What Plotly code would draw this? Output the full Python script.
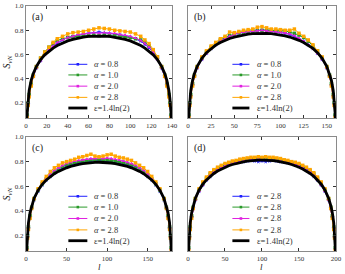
import plotly.graph_objects as go
from plotly.subplots import make_subplots

# ---------------- data ----------------
# panel (a), L = 140
l_a = [0, 1, 2, 3, 5, 7, 10, 14, 18, 22, 26, 30, 35, 40, 45, 50, 55, 60, 65, 70, 75, 80, 85, 90,
       95, 100, 105, 110, 114, 118, 122, 126, 130, 133, 135, 137, 138, 139, 140]
a_blue = [0.0, 0.09, 0.19, 0.26, 0.35, 0.42, 0.49, 0.55, 0.60, 0.64, 0.67, 0.69, 0.72, 0.74, 0.75, 0.76,
          0.77, 0.775, 0.78, 0.785, 0.78, 0.775, 0.77, 0.765, 0.755, 0.745, 0.73, 0.71, 0.685, 0.655,
          0.62, 0.565, 0.49, 0.42, 0.35, 0.26, 0.19, 0.09, 0.0]
a_green = [0.0, 0.10, 0.20, 0.27, 0.36, 0.43, 0.50, 0.57, 0.62, 0.66, 0.69, 0.715, 0.73, 0.74, 0.745,
           0.75, 0.755, 0.755, 0.76, 0.755, 0.76, 0.755, 0.755, 0.75, 0.745, 0.74, 0.73, 0.72, 0.70,
           0.67, 0.63, 0.58, 0.50, 0.43, 0.36, 0.27, 0.20, 0.10, 0.0]
a_mag = [0.0, 0.09, 0.19, 0.26, 0.35, 0.42, 0.49, 0.55, 0.60, 0.64, 0.67, 0.70, 0.72, 0.74, 0.75, 0.765,
         0.77, 0.775, 0.78, 0.775, 0.78, 0.775, 0.775, 0.765, 0.76, 0.75, 0.735, 0.715, 0.69, 0.66,
         0.62, 0.56, 0.49, 0.42, 0.35, 0.26, 0.19, 0.09, 0.0]
a_orange = [0.0, 0.08, 0.18, 0.25, 0.34, 0.42, 0.50, 0.57, 0.62, 0.66, 0.70, 0.73, 0.75, 0.77, 0.78,
            0.785, 0.79, 0.80, 0.81, 0.82, 0.815, 0.81, 0.80, 0.795, 0.79, 0.785, 0.77, 0.75, 0.72,
            0.69, 0.64, 0.58, 0.50, 0.42, 0.34, 0.25, 0.18, 0.08, 0.0]
a_theory = [0.0, 0.120, 0.236, 0.303, 0.388, 0.444, 0.502, 0.557, 0.597, 0.628, 0.653, 0.674, 0.695,
            0.712, 0.725, 0.736, 0.743, 0.749, 0.752, 0.753, 0.752, 0.749, 0.743, 0.736, 0.725, 0.712,
            0.695, 0.674, 0.653, 0.628, 0.597, 0.557, 0.502, 0.444, 0.388, 0.303, 0.236, 0.120, 0.0]

# panel (b), L = 160
l_b = [0, 1, 2, 3, 5, 7, 10, 15, 20, 25, 30, 35, 40, 45, 50, 55, 60, 65, 70, 75, 80, 85, 90, 95, 100,
       105, 110, 115, 120, 125, 130, 135, 140, 145, 150, 153, 155, 157, 158, 159, 160]
b_blue = [0.0, 0.09, 0.19, 0.26, 0.35, 0.42, 0.49, 0.56, 0.61, 0.65, 0.68, 0.71, 0.73, 0.75, 0.765,
          0.775, 0.785, 0.79, 0.795, 0.80, 0.80, 0.80, 0.795, 0.79, 0.785, 0.775, 0.765, 0.75, 0.73,
          0.71, 0.68, 0.65, 0.61, 0.56, 0.49, 0.42, 0.35, 0.26, 0.19, 0.09, 0.0]
b_green = [0.0, 0.10, 0.20, 0.27, 0.36, 0.43, 0.50, 0.57, 0.62, 0.66, 0.69, 0.72, 0.74, 0.755, 0.77,
           0.78, 0.785, 0.79, 0.795, 0.795, 0.80, 0.80, 0.80, 0.795, 0.80, 0.795, 0.785, 0.775, 0.76,
           0.74, 0.71, 0.67, 0.63, 0.57, 0.50, 0.43, 0.36, 0.27, 0.20, 0.10, 0.0]
b_mag = [0.0, 0.09, 0.19, 0.26, 0.35, 0.42, 0.49, 0.56, 0.61, 0.65, 0.68, 0.71, 0.73, 0.75, 0.765,
         0.78, 0.785, 0.79, 0.79, 0.795, 0.80, 0.795, 0.79, 0.79, 0.785, 0.78, 0.77, 0.755, 0.735,
         0.71, 0.68, 0.65, 0.61, 0.56, 0.49, 0.42, 0.35, 0.26, 0.19, 0.09, 0.0]
b_orange = [0.0, 0.08, 0.18, 0.25, 0.34, 0.42, 0.50, 0.58, 0.63, 0.67, 0.70, 0.73, 0.75, 0.785, 0.78,
            0.79, 0.80, 0.805, 0.81, 0.825, 0.83, 0.82, 0.81, 0.81, 0.805, 0.80, 0.80, 0.81, 0.775,
            0.75, 0.72, 0.68, 0.63, 0.58, 0.50, 0.42, 0.34, 0.25, 0.18, 0.08, 0.0]
b_theory = [0.0, 0.120, 0.236, 0.303, 0.388, 0.444, 0.503, 0.569, 0.615, 0.650, 0.677, 0.699, 0.717,
            0.732, 0.744, 0.754, 0.762, 0.768, 0.772, 0.774, 0.775, 0.774, 0.772, 0.768, 0.762, 0.754,
            0.744, 0.732, 0.717, 0.699, 0.677, 0.650, 0.615, 0.569, 0.503, 0.444, 0.388, 0.303, 0.236,
            0.120, 0.0]

# panel (c), L = 180
l_c = [0, 1, 2, 3, 5, 7, 10, 15, 20, 25, 30, 35, 40, 45, 50, 55, 60, 65, 70, 75, 80, 85, 90, 95, 100,
       105, 110, 115, 120, 125, 130, 135, 140, 145, 150, 155, 160, 165, 170, 173, 175, 177, 178, 179, 180]
c_blue = [0.0, 0.09, 0.19, 0.26, 0.35, 0.42, 0.49, 0.56, 0.61, 0.65, 0.68, 0.71, 0.73, 0.75, 0.765,
          0.775, 0.785, 0.79, 0.795, 0.80, 0.805, 0.805, 0.81, 0.805, 0.80, 0.80, 0.795, 0.79, 0.785,
          0.775, 0.765, 0.75, 0.73, 0.71, 0.68, 0.65, 0.61, 0.56, 0.49, 0.42, 0.35, 0.26, 0.19, 0.09, 0.0]
c_green = [0.0, 0.10, 0.20, 0.27, 0.36, 0.43, 0.50, 0.57, 0.62, 0.66, 0.69, 0.72, 0.74, 0.76, 0.775,
           0.785, 0.795, 0.80, 0.805, 0.81, 0.815, 0.815, 0.82, 0.815, 0.815, 0.81, 0.805, 0.80, 0.795,
           0.785, 0.775, 0.76, 0.74, 0.72, 0.69, 0.66, 0.62, 0.57, 0.50, 0.43, 0.36, 0.27, 0.20, 0.10, 0.0]
c_mag = [0.0, 0.09, 0.19, 0.26, 0.35, 0.43, 0.50, 0.57, 0.625, 0.665, 0.70, 0.73, 0.75, 0.77, 0.785,
         0.795, 0.805, 0.81, 0.815, 0.82, 0.825, 0.825, 0.83, 0.825, 0.83, 0.825, 0.82, 0.815, 0.805,
         0.795, 0.785, 0.77, 0.75, 0.73, 0.70, 0.665, 0.625, 0.57, 0.50, 0.43, 0.35, 0.26, 0.19, 0.09, 0.0]
c_orange = [0.0, 0.08, 0.18, 0.25, 0.34, 0.42, 0.50, 0.58, 0.635, 0.68, 0.72, 0.75, 0.77, 0.79, 0.80,
            0.81, 0.82, 0.835, 0.84, 0.85, 0.86, 0.845, 0.84, 0.845, 0.855, 0.86, 0.845, 0.835, 0.83,
            0.82, 0.81, 0.79, 0.77, 0.75, 0.72, 0.68, 0.635, 0.58, 0.50, 0.42, 0.34, 0.25, 0.18, 0.08, 0.0]
c_theory = [0.0, 0.120, 0.236, 0.303, 0.388, 0.444, 0.503, 0.569, 0.616, 0.651, 0.679, 0.702, 0.721,
            0.737, 0.750, 0.761, 0.771, 0.778, 0.784, 0.789, 0.792, 0.794, 0.795, 0.794, 0.792, 0.789,
            0.784, 0.778, 0.771, 0.761, 0.750, 0.737, 0.721, 0.702, 0.679, 0.651, 0.616, 0.569, 0.503,
            0.444, 0.388, 0.303, 0.236, 0.120, 0.0]

# panel (d), L = 200
l_d = [0, 1, 2, 3, 5, 7, 10, 15, 20, 25, 30, 35, 40, 45, 50, 55, 60, 65, 70, 75, 80, 85, 90, 95, 100,
       105, 110, 115, 120, 125, 130, 135, 140, 145, 150, 155, 160, 165, 170, 175, 180, 185, 190, 193,
       195, 197, 198, 199, 200]
d_blue = [0.0, 0.09, 0.19, 0.26, 0.35, 0.42, 0.49, 0.56, 0.61, 0.65, 0.68, 0.71, 0.73, 0.75, 0.76,
          0.775, 0.785, 0.79, 0.795, 0.80, 0.805, 0.81, 0.805, 0.80, 0.805, 0.80, 0.805, 0.81, 0.805,
          0.80, 0.795, 0.79, 0.785, 0.775, 0.76, 0.75, 0.73, 0.71, 0.68, 0.65, 0.61, 0.56, 0.49, 0.42,
          0.35, 0.26, 0.19, 0.09, 0.0]
d_green = [0.0, 0.10, 0.20, 0.27, 0.36, 0.43, 0.50, 0.57, 0.62, 0.665, 0.70, 0.725, 0.745, 0.76, 0.775,
           0.785, 0.795, 0.80, 0.81, 0.815, 0.82, 0.825, 0.83, 0.825, 0.83, 0.825, 0.83, 0.825, 0.82,
           0.815, 0.81, 0.80, 0.795, 0.785, 0.775, 0.76, 0.745, 0.725, 0.70, 0.665, 0.62, 0.57, 0.50,
           0.43, 0.36, 0.27, 0.20, 0.10, 0.0]
d_mag = [0.0, 0.09, 0.19, 0.26, 0.35, 0.42, 0.49, 0.56, 0.61, 0.655, 0.69, 0.715, 0.735, 0.75, 0.765,
         0.775, 0.785, 0.795, 0.80, 0.805, 0.81, 0.815, 0.815, 0.82, 0.82, 0.815, 0.815, 0.81, 0.81,
         0.805, 0.80, 0.795, 0.785, 0.775, 0.765, 0.75, 0.735, 0.715, 0.69, 0.655, 0.61, 0.56, 0.49,
         0.42, 0.35, 0.26, 0.19, 0.09, 0.0]
d_orange = [0.0, 0.08, 0.18, 0.25, 0.34, 0.42, 0.50, 0.58, 0.635, 0.675, 0.71, 0.735, 0.755, 0.77, 0.785,
            0.795, 0.805, 0.81, 0.82, 0.825, 0.83, 0.835, 0.835, 0.84, 0.835, 0.84, 0.835, 0.835, 0.83,
            0.825, 0.815, 0.81, 0.80, 0.795, 0.785, 0.77, 0.755, 0.735, 0.71, 0.675, 0.635, 0.58, 0.50,
            0.42, 0.34, 0.25, 0.18, 0.08, 0.0]
d_theory = [0.0, 0.120, 0.236, 0.303, 0.388, 0.444, 0.503, 0.570, 0.617, 0.652, 0.681, 0.704, 0.724,
            0.740, 0.755, 0.767, 0.777, 0.786, 0.793, 0.799, 0.804, 0.808, 0.810, 0.812, 0.812, 0.812,
            0.810, 0.808, 0.804, 0.799, 0.793, 0.786, 0.777, 0.767, 0.755, 0.740, 0.724, 0.704, 0.681,
            0.652, 0.617, 0.570, 0.503, 0.444, 0.388, 0.303, 0.236, 0.120, 0.0]

panel_labels = ["(a)", "(b)", "(c)", "(d)"]
legend_abcd = [["0.8", "1.0", "2.0", "2.8"], ["0.8", "1.0", "2.0", "2.8"],
               ["0.8", "1.0", "2.0", "2.8"], ["2.8", "2.8", "2.8", "2.8"]]
theory_label = "ε=1.4ln(2)"
x_ticks = [[0, 20, 40, 60, 80, 100, 120, 140], [0, 25, 50, 75, 100, 125, 150],
           [0, 50, 100, 150], [0, 50, 100, 150, 200]]
x_max = [140, 160, 180, 200]
y_ticks = [0.2, 0.4, 0.6, 0.8, 1.0]

panels = [
    (l_a, [a_blue, a_green, a_mag, a_orange], a_theory),
    (l_b, [b_blue, b_green, b_mag, b_orange], b_theory),
    (l_c, [c_blue, c_green, c_mag, c_orange], c_theory),
    (l_d, [d_blue, d_green, d_mag, d_orange], d_theory),
]

colors = ["#1f1fff", "#2a9a2a", "#e020e0", "#ffa500"]
symbols = ["star", "square", "triangle-up", "square"]
FONT = "Liberation Serif"

fig = make_subplots(rows=2, cols=2)
pos = [(1, 1), (1, 2), (2, 1), (2, 2)]
for k, (ls, series, theo) in enumerate(panels):
    r, c = pos[k]
    for s, col, sym in zip(series, colors, symbols):
        fig.add_trace(go.Scatter(x=ls, y=s, mode="lines+markers",
                                 line=dict(color=col, width=1),
                                 marker=dict(color=col, size=3.5, symbol=sym),
                                 showlegend=False), row=r, col=c)
    fig.add_trace(go.Scatter(x=ls, y=theo, mode="lines",
                             line=dict(color="black", width=2.8),
                             showlegend=False), row=r, col=c)

x_dom = [[0.0754, 0.4986], [0.5449, 0.9739]]
y_dom = [[0.569, 0.978], [0.084, 0.500]]
axis_common = dict(showline=True, linecolor="#8a8a8a", linewidth=1.3, mirror="ticks",
                   ticks="inside", ticklen=3, tickwidth=0.8, tickcolor="#333",
                   showgrid=False, zeroline=False, automargin=False,
                   tickfont=dict(family=FONT, size=7, color="#333"))

for k in range(4):
    r, c = pos[k]
    fig.update_xaxes(range=[0, x_max[k]], tickvals=x_ticks[k], domain=x_dom[c - 1],
                     row=r, col=c, **axis_common)
    fig.update_yaxes(range=[0.075, 1.0], tickvals=y_ticks, tickformat=".1f",
                     showticklabels=(c == 1),
                     domain=y_dom[r - 1], row=r, col=c, **axis_common)
    if c == 1:
        fig.update_yaxes(title=dict(text="<i>S</i><sub><i>vN</i></sub>",
                                    font=dict(family=FONT, size=10, color="#222"), standoff=2),
                         row=r, col=c)

# x-axis title "l" below each bottom panel
for xn in ["x3", "x4"]:
    fig.add_annotation(text="<i>l</i>", xref=f"{xn} domain", yref="paper", x=0.5, y=0.0,
                       xanchor="center", yanchor="bottom", yshift=0, showarrow=False,
                       font=dict(family=FONT, size=9, color="#222"))

# panel labels and in-panel legends
ax_names = [("x", "y"), ("x2", "y2"), ("x3", "y3"), ("x4", "y4")]
row_y = [0.48, 0.385, 0.285, 0.185, 0.09]
for k, (xn, yn) in enumerate(ax_names):
    fig.add_annotation(text=panel_labels[k], xref=f"{xn} domain", yref=f"{yn} domain",
                       x=0.025, y=0.975, xanchor="left", yanchor="top", showarrow=False,
                       font=dict(family=FONT, size=10, color="#222"))
    x0, x1, xt = (0.29, 0.42, 0.455) if k % 2 == 0 else (0.30, 0.415, 0.45)
    labels = [f"<i>α</i> = {v}" for v in legend_abcd[k]] + [theory_label]
    for j, lab in enumerate(labels):
        yy = row_y[j]
        if j < 4:
            fig.add_shape(type="line", xref=f"{xn} domain", yref=f"{yn} domain",
                          x0=x0, x1=x1, y0=yy, y1=yy, line=dict(color=colors[j], width=1))
            fig.add_shape(type="rect", xref=f"{xn} domain", yref=f"{yn} domain",
                          xsizemode="pixel", ysizemode="pixel",
                          xanchor=(x0 + x1) / 2, yanchor=yy, x0=-1.3, x1=1.3, y0=-1.3, y1=1.3,
                          fillcolor=colors[j], line=dict(width=0))
        else:
            fig.add_shape(type="line", xref=f"{xn} domain", yref=f"{yn} domain",
                          x0=x0, x1=x1, y0=yy, y1=yy, line=dict(color="black", width=2.8))
        fig.add_annotation(text=lab, xref=f"{xn} domain", yref=f"{yn} domain",
                           x=xt, y=yy, xanchor="left", yanchor="middle", showarrow=False,
                           font=dict(family=FONT, size=8.5, color="#333"))

fig.update_layout(width=345, height=274, margin=dict(l=0, r=0, t=0, b=0),
                  plot_bgcolor="white", paper_bgcolor="white", showlegend=False)
fig.write_html("out.html", config={"displayModeBar": False},
               post_script="document.body.style.margin='0';document.body.style.padding='0';")
